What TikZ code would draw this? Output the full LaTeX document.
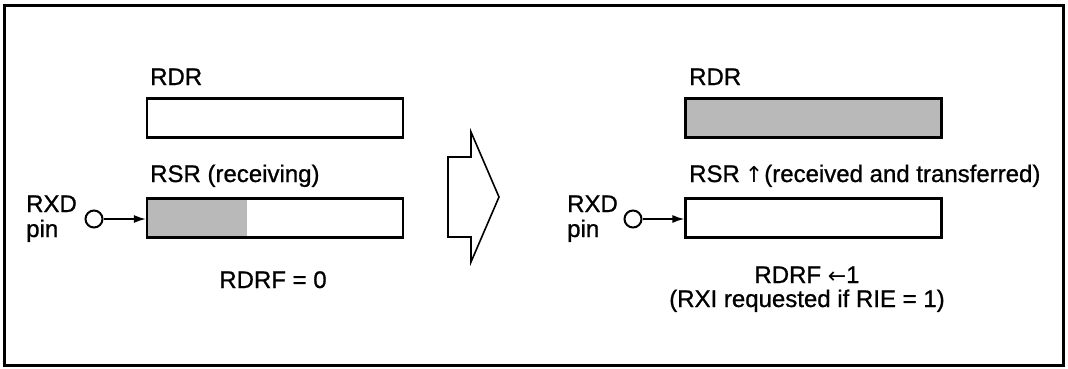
\documentclass[tikz,border=0pt]{standalone}
\usepackage{fontspec}
\setmainfont{Liberation Sans}[FakeBold=0.9]
\newfontfamily\arrowfont{DejaVu Sans}
\usetikzlibrary{arrows.meta}
\begin{document}
\begin{tikzpicture}[x=1pt,y=-1pt,
  every node/.style={font=\fontsize{24}{25}\selectfont, inner sep=0pt},
  regbox/.style={draw, line width=2.2pt, minimum width=256pt, minimum height=39pt},
  pincircle/.style={circle, draw, line width=2pt, minimum size=17pt},
  lbl/.style={anchor=base west},
  feed/.style={line width=1.6pt, -{Latex[length=12pt,width=8pt]}},
  shade/.style={fill=gray!55}]
\useasboundingbox (0,0) rectangle (1068,368);
\draw[line width=3pt] (4,5) rectangle (1063,365);

% ---------- left side ----------
\node[lbl] (rdrLl) at (150,85) {RDR};
\node[regbox] (rdrL) at (275,118) {};
\node[lbl] (rsrLl) at (150,182) {RSR (receiving)};
\fill[shade] (147,198.5) rectangle (247,237.5);
\node[regbox] (rsrL) at (275,218) {};
\node[pincircle] (pinL) at (94,219) {};
\node[anchor=base west] (rxdL) at (26,212) {RXD};
\node[anchor=base west] (pinLl) at (26,237) {pin};
\draw[feed] (pinL.east) -- (pinL.east -| rsrL.west);
\node[anchor=base] (rdrfL) at (273,288) {RDRF = 0};

% ---------- transition arrow ----------
\draw[line width=1.6pt, line join=miter]
  (448,157) -- (471,157) -- (471,132) -- (499,197) -- (471,262) -- (471,237) -- (448,237) -- cycle;

% ---------- right side ----------
\node[lbl] (rdrRl) at (689,85) {RDR};
\node[regbox, shade] (rdrR) at (813.5,118) {};
\node[lbl] (rsrRl) at (689,182) {RSR\kern5pt{\arrowfont\fontsize{22}{24}\selectfont↑}\kern1pt(received and transferred)};
\node[regbox] (rsrR) at (813.5,218) {};
\node[pincircle] (pinR) at (633,219) {};
\node[anchor=base west] (rxdR) at (567,212) {RXD};
\node[anchor=base west] (pinRl) at (567,237) {pin};
\draw[feed] (pinR.east) -- (pinR.east -| rsrR.west);
\node[anchor=base] (rdrfR) at (807,283) {RDRF {\arrowfont\fontsize{22}{24}\selectfont←}1};
\node[anchor=base] (rxiR) at (807,307) {(RXI requested if RIE = 1)};
\end{tikzpicture}
\end{document}
